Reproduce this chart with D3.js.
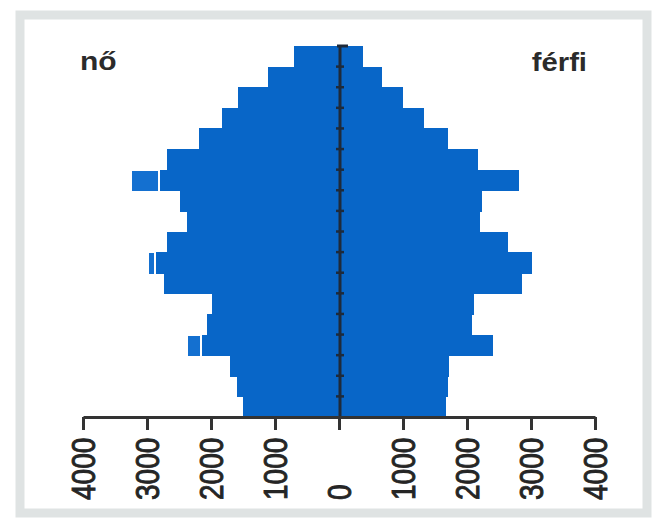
<!DOCTYPE html>
<html>
<head>
<meta charset="utf-8">
<script src="https://cdn.jsdelivr.net/npm/d3@7"></script>
<style>
  html, body { margin: 0; padding: 0; background: #ffffff; }
  svg { display: block; }
  text { font-family: "Liberation Sans", Arial, Helvetica, sans-serif; }
</style>
</head>
<body>
<svg id="chart" width="652" height="520"></svg>
<script>
// Age groups, youngest (bottom) to oldest (top)
const ageGroups = ["0-4","5-9","10-14","15-19","20-24","25-29","30-34","35-39","40-44",
                   "45-49","50-54","55-59","60-64","65-69","70-74","75-79","80-84","85+"];
// nő (female, left side)
const female = [1500, 1590, 1700, 2140, 2060, 1985, 2730, 2860, 2690,
                2375, 2480, 2800, 2690, 2190, 1830, 1580, 1110, 700];
// extra highlighted boxes on the female side (null = none)
const femaleExtra = [null, null, null, 2360, null, null, null, 2970, null,
                     null, null, 3230, null, null, null, null, null, null];
// férfi (male, right side)
const male = [1670, 1700, 1720, 2410, 2080, 2110, 2860, 3020, 2640,
              2200, 2230, 2810, 2170, 1700, 1330, 1000, 670, 375];
const tickValues = [0, 1000, 2000, 3000, 4000];
const tickLabels = ["0", "1000", "2000", "3000", "4000"];
const sideLabels = ["nő", "férfi"];

const svg = d3.select("#chart");

// scanned frame
svg.append("rect")
  .attr("x", 20).attr("y", 15).attr("width", 627).attr("height", 498)
  .attr("fill", "none").attr("stroke", "#dfe3e3").attr("stroke-width", 9);

const x0 = 339, axisY = 417, topY = 46;
const xL = d3.scaleLinear().domain([0, 4000]).range([x0, 83]);
const xR = d3.scaleLinear().domain([0, 4000]).range([x0, 595]);
const y = d3.scaleBand().domain(ageGroups.slice().reverse()).range([topY, axisY]).padding(0);

const blue = "#0866c8";

// female bars
svg.append("g").attr("shape-rendering", "crispEdges")
  .selectAll("rect").data(ageGroups).join("rect")
  .attr("x", (d, i) => xL(female[i]))
  .attr("y", d => y(d))
  .attr("width", (d, i) => x0 - xL(female[i]) + 1)
  .attr("height", y.bandwidth() + 1)
  .attr("fill", blue);

// extra boxes
svg.append("g").attr("shape-rendering", "crispEdges")
  .selectAll("rect")
  .data(ageGroups.map((d, i) => ({ d, v: femaleExtra[i], f: female[i] })).filter(o => o.v !== null))
  .join("rect")
  .attr("x", o => xL(o.v))
  .attr("y", o => y(o.d) + 1)
  .attr("width", o => Math.max(1, xL(o.f) - xL(o.v) - 2))
  .attr("height", y.bandwidth())
  .attr("fill", "#1470d0");

// male bars
svg.append("g").attr("shape-rendering", "crispEdges")
  .selectAll("rect").data(ageGroups).join("rect")
  .attr("x", x0)
  .attr("y", d => y(d))
  .attr("width", (d, i) => xR(male[i]) - x0)
  .attr("height", y.bandwidth() + 1)
  .attr("fill", blue);

// center line with ticks at group boundaries
const cx = 340;
svg.append("line")
  .attr("x1", cx).attr("x2", cx).attr("y1", topY - 1).attr("y2", axisY)
  .attr("stroke", "#1e2a3a").attr("stroke-width", 3);
svg.append("g").selectAll("line").data(ageGroups.slice(0, ageGroups.length - 1)).join("line")
  .attr("x1", cx - 4).attr("x2", cx + 4)
  .attr("y1", d => y(d)).attr("y2", d => y(d))
  .attr("stroke", "#1e2a3a").attr("stroke-width", 2.5);
svg.append("line")
  .attr("x1", cx - 3).attr("x2", cx + 8).attr("y1", topY).attr("y2", topY)
  .attr("stroke", "#1e2a3a").attr("stroke-width", 3);

// axes
function styleAxis(g) {
  g.select(".domain").attr("stroke", "#333").attr("stroke-width", 3);
  g.selectAll(".tick line").attr("stroke", "#333").attr("stroke-width", 3);
  g.selectAll(".tick text")
    .attr("x", null).attr("y", null)
    .attr("dy", "0.36em")
    .attr("transform", "translate(0,83) scale(1.17,1) rotate(-90)")
    .attr("text-anchor", "start")
    .attr("fill", "#252525")
    .attr("stroke", "#252525")
    .attr("stroke-width", 0.8)
    .style("font-size", "28px")
    .style("font-weight", "normal")
    .style("font-family", "'Liberation Sans', Arial, sans-serif");
}
const fmt = v => tickLabels[tickValues.indexOf(v)];

const axL = d3.axisBottom(xL).tickValues(tickValues).tickSize(13).tickSizeOuter(0).tickFormat(fmt);
const gL = svg.append("g").attr("transform", `translate(0,${axisY})`).call(axL);
styleAxis(gL);

const axR = d3.axisBottom(xR).tickValues(tickValues.slice(1)).tickSize(13).tickSizeOuter(0).tickFormat(fmt);
const gR = svg.append("g").attr("transform", `translate(0,${axisY})`).call(axR);
styleAxis(gR);

// side labels
svg.append("text")
  .attr("transform", "translate(80,70) scale(1.2,1)")
  .attr("fill", "#2b2b2b").style("font-size", "25px").style("font-weight", "bold")
  .text(sideLabels[0]);
svg.append("text")
  .attr("transform", "translate(587,71) scale(1.17,1)")
  .attr("text-anchor", "end")
  .attr("fill", "#2b2b2b").style("font-size", "25px").style("font-weight", "bold")
  .text(sideLabels[1]);
</script>
</body>
</html>
